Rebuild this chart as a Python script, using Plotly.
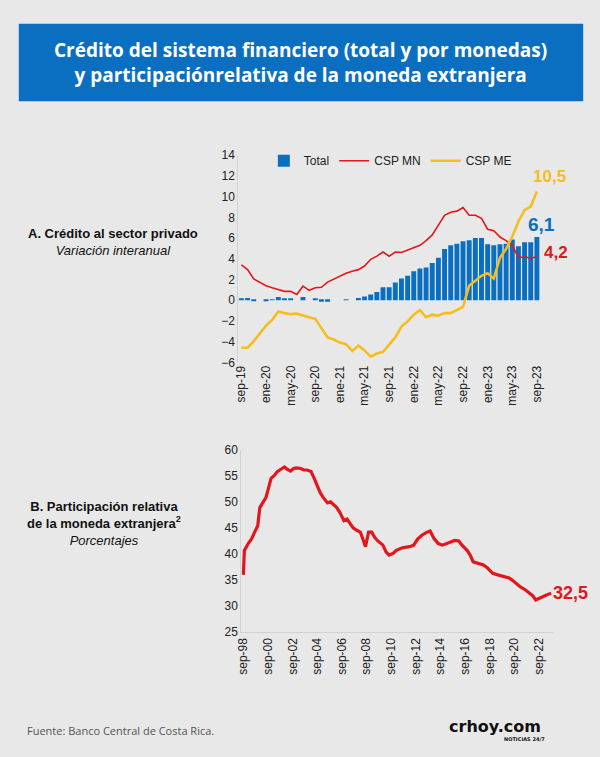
import plotly.graph_objects as go

# ---- datos panel A (variación interanual, mensual sep-19 a sep-23)
meses = ["sep-19", "oct-19", "nov-19", "dic-19", "ene-20", "feb-20", "mar-20", "abr-20",
         "may-20", "jun-20", "jul-20", "ago-20", "sep-20", "oct-20", "nov-20", "dic-20",
         "ene-21", "feb-21", "mar-21", "abr-21", "may-21", "jun-21", "jul-21", "ago-21",
         "sep-21", "oct-21", "nov-21", "dic-21", "ene-22", "feb-22", "mar-22", "abr-22",
         "may-22", "jun-22", "jul-22", "ago-22", "sep-22", "oct-22", "nov-22", "dic-22",
         "ene-23", "feb-23", "mar-23", "abr-23", "may-23", "jun-23", "jul-23", "ago-23",
         "sep-23"]
total = [0.1, 0.2, -0.1, 0.0, -0.05, 0.05, 0.3, 0.1, 0.1, 0.0, 0.3, 0.0, 0.1,
         -0.15, -0.15, 0.0, 0.0, 0.05, 0.0, 0.2, 0.35, 0.55, 0.8, 1.25, 1.25, 1.7,
         2.1, 2.35, 2.8, 3.05, 3.15, 3.6, 4.1, 4.95, 5.3, 5.45, 5.7, 5.8, 6.0, 6.0,
         5.4, 5.3, 5.4, 5.45, 5.85, 5.2, 5.6, 5.6, 6.1]
csp_mn = [3.4, 2.95, 2.05, 1.75, 1.4, 1.2, 1.0, 0.85, 0.85, 0.55, 1.35, 0.95, 1.2,
          1.25, 1.75, 2.05, 2.35, 2.6, 2.8, 2.95, 3.3, 3.95, 4.25, 4.65, 4.25, 4.65,
          4.6, 4.85, 5.1, 5.3, 5.75, 6.3, 7.25, 8.2, 8.5, 8.6, 8.95, 8.2, 8.2, 7.9,
          6.85, 6.7, 6.1, 5.75, 5.3, 4.1, 4.2, 4.05, 4.2]
csp_me = [-4.6, -4.6, -3.95, -3.15, -2.45, -1.9, -1.1, -1.25, -1.35, -1.3, -1.5,
          -1.65, -1.8, -2.7, -3.6, -3.8, -4.1, -4.25, -4.9, -4.4, -4.85, -5.45, -5.15,
          -5.0, -4.3, -3.6, -2.55, -2.05, -1.4, -0.95, -1.65, -1.4, -1.5, -1.25, -1.25,
          -0.95, -0.65, 1.4, 1.9, 2.35, 2.6, 2.1, 4.1, 4.95, 6.15, 7.6, 8.7, 9.05, 10.5]
ticks_a = meses[::4]

# ---- datos panel B (participación relativa ME, %)
fechas_b = ["1998-09", "1998-10", "1999-02", "1999-05", "1999-08", "1999-11", "2000-01",
            "2000-04", "2000-07", "2000-10", "2000-12", "2001-03", "2001-06", "2001-10",
            "2002-01", "2002-04", "2002-07", "2002-10", "2003-01", "2003-05", "2003-08",
            "2003-11", "2004-03", "2004-06", "2004-09", "2004-12", "2005-03", "2005-07",
            "2005-10", "2006-01", "2006-04", "2006-07", "2006-11", "2007-02", "2007-05",
            "2007-08", "2007-11", "2008-03", "2008-06", "2008-08", "2008-11", "2009-02",
            "2009-05", "2009-08", "2010-01", "2010-04", "2010-07", "2010-11", "2011-02",
            "2011-08", "2012-03", "2012-07", "2012-11", "2013-03", "2013-08", "2013-11",
            "2014-03", "2014-07", "2014-11", "2015-05", "2015-11", "2016-03", "2016-06",
            "2016-11", "2017-02", "2017-05", "2017-10", "2018-03", "2018-07", "2018-12",
            "2019-05", "2019-10", "2020-04", "2020-07", "2020-11", "2021-03", "2021-08",
            "2021-11", "2022-03", "2022-06", "2022-09", "2022-12", "2023-04", "2023-09"]
part_me = [36.0, 40.7, 42.1, 42.9, 44.2, 45.4, 48.9, 49.8, 50.8, 53.0, 54.5, 55.0, 55.8,
           56.3, 56.7, 56.2, 55.9, 56.4, 56.5, 56.4, 56.1, 56.1, 55.8, 54.5, 53.0, 51.7,
           50.8, 49.8, 50.0, 49.5, 48.9, 48.0, 46.4, 46.7, 45.8, 45.0, 44.6, 44.2, 42.6,
           41.4, 44.2, 44.2, 43.2, 42.5, 41.7, 40.4, 39.8, 40.1, 40.7, 41.2, 41.4, 41.7,
           42.9, 43.6, 44.2, 44.4, 42.9, 42.0, 41.7, 42.1, 42.6, 42.5, 41.7, 40.7, 39.8,
           38.5, 38.2, 37.9, 37.3, 36.3, 36.0, 35.7, 35.4, 35.0, 34.3, 33.7, 33.1, 32.7,
           32.0, 31.2, 31.5, 31.8, 32.1, 32.5]
ticks_b = ["%d-09-01" % a for a in range(1998, 2023, 2)]
ticks_b_txt = ["sep-%02d" % (a % 100) for a in range(1998, 2023, 2)]

AZUL = "#0b6fc1"
ROJO = "#e3161b"
AMARILLO = "#f6bd1f"
FONDO = "#e8e8e8"
FUENTE = "Liberation Sans, Arial, sans-serif"

fig = go.Figure()

fig.add_trace(go.Bar(x=meses, y=total, name="Total", marker_color=AZUL,
                     marker_line_width=0, width=0.8, xaxis="x", yaxis="y"))
fig.add_trace(go.Scatter(x=meses, y=csp_mn, name="CSP MN", mode="lines",
                         line=dict(color=ROJO, width=1.6), xaxis="x", yaxis="y"))
fig.add_trace(go.Scatter(x=meses, y=csp_me, name="CSP ME", mode="lines",
                         line=dict(color=AMARILLO, width=2.6), xaxis="x", yaxis="y"))

fig.add_trace(go.Scatter(x=fechas_b, y=part_me, mode="lines", showlegend=False,
                         line=dict(color=ROJO, width=3.2), xaxis="x2", yaxis="y2"))

fig.update_layout(
    width=600, height=757,
    margin=dict(l=0, r=0, t=0, b=0),
    paper_bgcolor=FONDO, plot_bgcolor=FONDO,
    font=dict(family=FUENTE, size=12, color="#222"),
    bargap=0.2,
    showlegend=True,
    legend=dict(orientation="h", x=0.438, y=0.793, xanchor="left", yanchor="middle",
                bgcolor="rgba(0,0,0,0)", font=dict(size=12, color="#222"),
                itemwidth=30, tracegroupgap=0),
    xaxis=dict(domain=[0.3948, 0.9052], type="category", range=[-0.5, 48.5],
               tickmode="array", tickvals=ticks_a, ticktext=ticks_a, tickangle=-90,
               showgrid=False, zeroline=False, showline=False, ticks="",
               tickfont=dict(size=12), anchor="y"),
    yaxis=dict(domain=[0.5218, 0.8005], range=[-6, 14], dtick=2,
               showgrid=False, zeroline=False, showline=True, linecolor="#d2d2d2",
               linewidth=1, ticks="", tickfont=dict(size=12), anchor="x"),
    xaxis2=dict(domain=[0.3998, 0.9267], type="date", range=["1998-07-01", "2023-10-15"],
                tickmode="array", tickvals=ticks_b, ticktext=ticks_b_txt, tickangle=-90,
                showgrid=False, zeroline=False, showline=True, linecolor="#d2d2d2",
                ticks="", tickfont=dict(size=12), anchor="y2"),
    yaxis2=dict(domain=[0.1585, 0.4042], range=[25, 60], dtick=5,
                showgrid=False, zeroline=False, showline=True, linecolor="#d2d2d2",
                ticks="", tickfont=dict(size=12), anchor="x2"),
)

# cabecera azul
fig.add_shape(type="rect", xref="paper", yref="paper", x0=14/600, x1=587/600,
              y0=1-96/757, y1=1-17/757, fillcolor=AZUL, line_width=0, layer="below")
fig.add_annotation(xref="paper", yref="paper", x=0.5, y=1-57/757, showarrow=False,
                   text="<b>Crédito del sistema financiero (total y por monedas)<br>"
                        "y participaciónrelativa de la moneda extranjera</b>",
                   font=dict(family="Open Sans, sans-serif", size=19, color="white"),
                   align="center", xanchor="center", yanchor="middle")

# títulos laterales
fig.add_annotation(xref="paper", yref="paper", x=110/600, y=1-239/757, showarrow=False,
                   text="<b>A. Crédito al sector privado</b><br><i>Variación interanual</i>",
                   font=dict(size=13, color="#111"), align="center",
                   xanchor="center", yanchor="middle")
fig.add_annotation(xref="paper", yref="paper", x=100/600, y=1-526/757, showarrow=False,
                   text="<b>B. Participación relativa<br>de la moneda extranjera<sup>2</sup></b>"
                        "<br><i>Porcentajes</i>",
                   font=dict(size=13, color="#111"), align="center",
                   xanchor="center", yanchor="middle")

# etiquetas de último valor
fig.add_annotation(x=meses[-1], y=csp_me[-1], xref="x", yref="y", text="<b>10,5</b>",
                   showarrow=False, xanchor="left", yanchor="bottom", xshift=-6, yshift=3,
                   font=dict(size=17, color=AMARILLO))
fig.add_annotation(x=meses[-1], y=total[-1], xref="x", yref="y", text="<b>6,1</b>",
                   showarrow=False, xanchor="center", yanchor="bottom", xshift=5, yshift=0,
                   font=dict(size=19, color=AZUL))
fig.add_annotation(x=meses[-1], y=csp_mn[-1], xref="x", yref="y", text="<b>4,2</b>",
                   showarrow=False, xanchor="left", yanchor="middle", xshift=5, yshift=4,
                   font=dict(size=17, color=ROJO))
fig.add_annotation(x=fechas_b[-1], y=part_me[-1], xref="x2", yref="y2", text="<b>32,5</b>",
                   showarrow=False, xanchor="left", yanchor="middle", xshift=0,
                   font=dict(size=18, color=ROJO))

# pie
fig.add_annotation(xref="paper", yref="paper", x=20/600, y=1-737/757, showarrow=False,
                   text="Fuente: Banco Central de Costa Rica.", xanchor="left",
                   yanchor="middle",
                   font=dict(family="Open Sans, sans-serif", size=11, color="#555"))
fig.add_annotation(xref="paper", yref="paper", x=497/600, y=1-733/757, showarrow=False,
                   text="<b>crhoy.com</b>", xanchor="center", yanchor="middle",
                   font=dict(family="DejaVu Sans, sans-serif", size=16, color="#111"))
fig.add_annotation(xref="paper", yref="paper", x=527/600, y=1-746/757, showarrow=False,
                   text="<b>NOTICIAS 24/7</b>", xanchor="center", yanchor="middle",
                   font=dict(family="DejaVu Sans, sans-serif", size=5, color="#111"))

# sin margen del body para que la figura ocupe la ventana completa
fig.write_html("out.html", config={"displayModeBar": False},
               post_script="document.body.style.margin='0';")
